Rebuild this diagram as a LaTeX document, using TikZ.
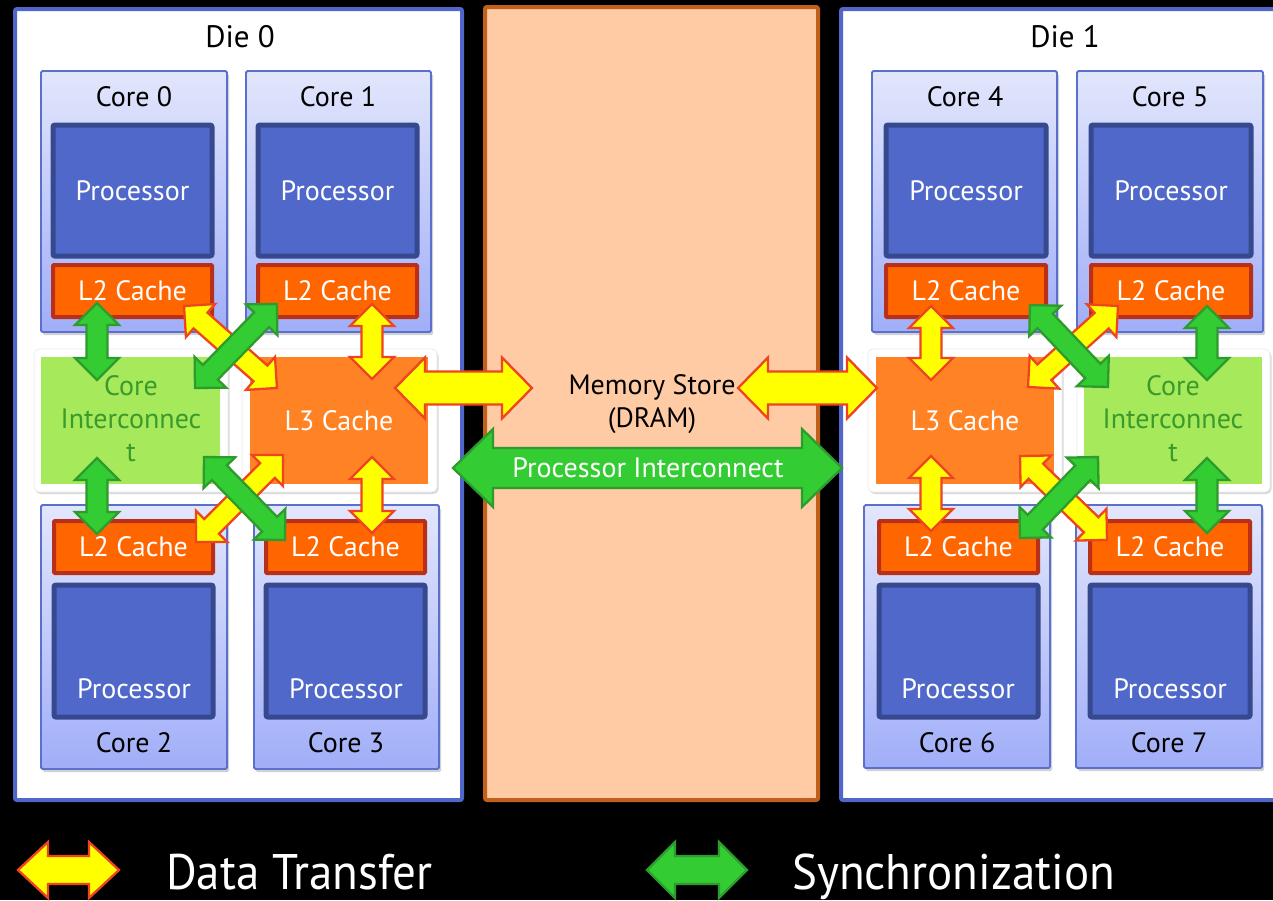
\documentclass[tikz,border=0pt]{standalone}
\usepackage{fontspec}
\setmainfont{PT Sans}
\usepackage{graphicx}
\usetikzlibrary{shadows,calc}
\definecolor{dieblue}{HTML}{5066C8}
\definecolor{corelight}{HTML}{E2E6FC}
\definecolor{coredark}{HTML}{A0AEF8}
\definecolor{coreborder}{HTML}{5A70CC}
\definecolor{procfill}{HTML}{4F68C9}
\definecolor{procborder}{HTML}{36498F}
\definecolor{ltwofill}{HTML}{FF6600}
\definecolor{ltwoborder}{HTML}{B8301A}
\definecolor{lthreefill}{HTML}{FF8224}
\definecolor{cifill}{HTML}{A6E95A}
\definecolor{citext}{HTML}{3A9B2C}
\definecolor{memfill}{HTML}{FFCBA4}
\definecolor{memborder}{HTML}{C0601C}
\definecolor{yelfill}{HTML}{FFFF00}
\definecolor{yelborder}{HTML}{EE4422}
\definecolor{grnfill}{HTML}{33CC33}
\definecolor{grnborder}{HTML}{2E9B2E}

\newcommand\boxat[7]{%
  \node[#2, minimum width={#5-#3}, minimum height={#6-#4}] (#1) at ({(#3+#5)/2},{(#4+#6)/2}) {#7};}

\newcommand\blockarrow[6]{%
  \path let \p1=(#2), \p2=(#3) in \pgfextra{%
    \pgfmathsetmacro\baAng{atan2(\y2-\y1,\x2-\x1)}%
    \pgfmathsetmacro\baLen{veclen(\x2-\x1,\y2-\y1)}%
    \xdef\baA{\baAng}\xdef\baL{\baLen}\xdef\baX{\x1}\xdef\baY{\y1}};
  \draw[#1, shift={(\baX,\baY)}, rotate=\baA]
    (0,0) -- (#6,#5) -- (#6,#4) -- ({\baL-#6},#4) -- ({\baL-#6},#5) -- (\baL,0)
    -- ({\baL-#6},-#5) -- ({\baL-#6},-#4) -- (#6,-#4) -- (#6,-#5) -- cycle;}

\tikzset{
  every node/.style={inner sep=0pt, font=\fontsize{28}{33}\selectfont},
  die/.style={draw=dieblue, line width=4pt, fill=white, rounded corners=2pt},
  mem/.style={draw=memborder, line width=4pt, fill=memfill, rounded corners=2pt},
  core/.style={draw=coreborder, line width=1.8pt, top color=corelight, bottom color=coredark,
    rounded corners=1.5pt, drop shadow={shadow xshift=2pt, shadow yshift=-3pt, opacity=0.18, fill=black}},
  proc/.style={draw=procborder, line width=5pt, fill=procfill, rounded corners=2pt, text=white},
  ltwo/.style={draw=ltwoborder, line width=4pt, fill=ltwofill, text=white, rounded corners=1pt},
  panel/.style={fill=white, draw=black!8, line width=0.8pt, rounded corners=5pt,
    drop shadow={shadow xshift=1.5pt, shadow yshift=-2pt, opacity=0.15, fill=black}},
  lthree/.style={fill=lthreefill, text=white},
  cinter/.style={fill=cifill, text=citext, align=center},
  lbl/.style={text=black},
  yel/.style={fill=yelfill, draw=yelborder, line width=2.3pt, line join=miter},
  grn/.style={fill=grnfill, draw=grnborder, line width=2.3pt, line join=miter},
  legendtext/.style={text=white, font=\fontsize{50}{60}\selectfont, anchor=base west}
}

\begin{document}
\begin{tikzpicture}[x=1pt, y=-1pt]
\useasboundingbox (0,0) rectangle (1273,900);
\clip (0,0) rectangle (1273,900);
\fill[black] (0,0) rectangle (1273,900);

% dies and memory
\boxat{die0}{die}{15}{9}{462}{800}{}
\boxat{die1}{die}{841}{9}{1292}{800}{}
\boxat{mem}{mem}{485}{7}{818}{800}{}
\node[lbl, font=\fontsize{31}{36}\selectfont] (die0lbl) at (240,37) {Die 0};
\node[lbl, font=\fontsize{31}{36}\selectfont] (die1lbl) at (1065,37) {Die 1};

% cores
\boxat{core0}{core}{41}{71}{227}{332}{}
\boxat{core1}{core}{246}{71}{431}{332}{}
\boxat{core2}{core}{41}{505}{227}{769}{}
\boxat{core3}{core}{254}{505}{439}{769}{}
\boxat{core4}{core}{872}{71}{1057}{332}{}
\boxat{core5}{core}{1077}{71}{1263}{332}{}
\boxat{core6}{core}{864}{505}{1050}{768}{}
\boxat{core7}{core}{1076}{505}{1262}{768}{}

\node[lbl] (c0lbl) at (134,97) {Core 0};
\node[lbl] (c1lbl) at (338,97) {Core 1};
\node[lbl] (c4lbl) at (965,97) {Core 4};
\node[lbl] (c5lbl) at (1170,97) {Core 5};
\node[lbl] (c2lbl) at (134,743) {Core 2};
\node[lbl] (c3lbl) at (346,743) {Core 3};
\node[lbl] (c6lbl) at (957,743) {Core 6};
\node[lbl] (c7lbl) at (1169,743) {Core 7};

% processors
\boxat{proc0}{proc}{53}{125}{212}{256}{Processor}
\boxat{proc1}{proc}{258}{125}{417}{256}{Processor}
\boxat{proc4}{proc}{886}{125}{1046}{256}{Processor}
\boxat{proc5}{proc}{1091}{125}{1251}{256}{Processor}
\boxat{proc2}{proc}{54}{585}{213}{717}{}
\boxat{proc3}{proc}{266}{585}{425}{717}{}
\boxat{proc6}{proc}{879}{585}{1038}{717}{}
\boxat{proc7}{proc}{1090}{585}{1250}{717}{}
\node[text=white] (p2t) at (134,689) {Processor};
\node[text=white] (p3t) at (346,689) {Processor};
\node[text=white] (p6t) at (958,689) {Processor};
\node[text=white] (p7t) at (1170,689) {Processor};

% L2 caches
\boxat{ltwoa}{ltwo}{53}{265}{212}{317}{L2 Cache}
\boxat{ltwob}{ltwo}{258}{265}{417}{317}{L2 Cache}
\boxat{ltwoc}{ltwo}{54}{521}{213}{573}{L2 Cache}
\boxat{ltwod}{ltwo}{266}{521}{425}{573}{L2 Cache}
\boxat{ltwoe}{ltwo}{886}{265}{1046}{317}{L2 Cache}
\boxat{ltwof}{ltwo}{1091}{265}{1251}{317}{L2 Cache}
\boxat{ltwog}{ltwo}{879}{521}{1038}{573}{L2 Cache}
\boxat{ltwoh}{ltwo}{1090}{521}{1250}{573}{L2 Cache}

% panels, L3 and core interconnects
\boxat{pci0}{panel}{34}{349}{228}{492}{}
\boxat{pl30}{panel}{242}{349}{437}{492}{}
\boxat{pl31}{panel}{868}{349}{1062}{492}{}
\boxat{pci1}{panel}{1077}{349}{1270}{492}{}
\boxat{ci0}{cinter}{41}{357}{220}{484}{}
\boxat{lthreea}{lthree}{250}{357}{428}{484}{L3 Cache}
\boxat{lthreeb}{lthree}{876}{357}{1054}{484}{L3 Cache}
\boxat{ci1}{cinter}{1084}{357}{1262}{484}{}
\node[text=citext, align=center] (ci0t) at (131,419) {Core\\Interconnec\\t};
\node[text=citext, align=center] (ci1t) at (1173,419) {Core\\Interconnec\\t};

% memory text
\node[lbl, align=center] (memt) at (652,404) {Memory Store\\(DRAM)};

% arrow end points
\coordinate (a1s) at (97,303);  \coordinate (a1e) at (97,380);
\coordinate (a2s) at (97,458);  \coordinate (a2e) at (97,534);
\coordinate (a3s) at (372,304); \coordinate (a3e) at (372,379);
\coordinate (a4s) at (372,457); \coordinate (a4e) at (372,533);
\coordinate (a5s) at (184,306); \coordinate (a5e) at (277,388);
\coordinate (a6s) at (195,388); \coordinate (a6e) at (277,304);
\coordinate (a7s) at (204,457); \coordinate (a7e) at (285,540);
\coordinate (a8s) at (283,455); \coordinate (a8e) at (196,542);

\coordinate (b1s) at (931,306); \coordinate (b1e) at (931,380);
\coordinate (b2s) at (931,456); \coordinate (b2e) at (931,531);
\coordinate (b3s) at (1207,306); \coordinate (b3e) at (1207,380);
\coordinate (b4s) at (1207,458); \coordinate (b4e) at (1207,533);
\coordinate (b5s) at (1030,305); \coordinate (b5e) at (1108,387);
\coordinate (b6s) at (1118,306); \coordinate (b6e) at (1028,387);
\coordinate (b7s) at (1020,456); \coordinate (b7e) at (1107,540);
\coordinate (b8s) at (1098,457); \coordinate (b8e) at (1020,538);

\coordinate (m1s) at (395,388); \coordinate (m1e) at (532,388);
\coordinate (m2s) at (738,388); \coordinate (m2e) at (877,388);
\coordinate (m3s) at (453,468); \coordinate (m3e) at (842,468);

% yellow (data transfer) arrows
\blockarrow{yel}{a3s}{a3e}{10.5}{22}{22}
\blockarrow{yel}{a4s}{a4e}{10.5}{22}{22}
\blockarrow{yel}{a5s}{a5e}{10.5}{22}{22}
\blockarrow{yel}{a8s}{a8e}{10.5}{22}{22}
\blockarrow{yel}{b1s}{b1e}{10.5}{22}{22}
\blockarrow{yel}{b2s}{b2e}{10.5}{22}{22}
\blockarrow{yel}{b6s}{b6e}{10.5}{22}{22}
\blockarrow{yel}{b7s}{b7e}{10.5}{22}{22}
\blockarrow{yel}{m1s}{m1e}{16.5}{30.5}{30}
\blockarrow{yel}{m2s}{m2e}{16.5}{30.5}{30}

% green (synchronization) arrows
\blockarrow{grn}{a1s}{a1e}{10.5}{22}{22}
\blockarrow{grn}{a2s}{a2e}{10.5}{22}{22}
\blockarrow{grn}{a6s}{a6e}{10.5}{22}{22}
\blockarrow{grn}{a7s}{a7e}{10.5}{22}{22}
\blockarrow{grn}{b3s}{b3e}{10.5}{22}{22}
\blockarrow{grn}{b4s}{b4e}{10.5}{22}{22}
\blockarrow{grn}{b5s}{b5e}{10.5}{22}{22}
\blockarrow{grn}{b8s}{b8e}{10.5}{22}{22}
\blockarrow{grn}{m3s}{m3e}{20}{39}{40}
\node[text=white] (pit) at (648,468) {Processor Interconnect};

% legend
\coordinate (l1s) at (18,870);  \coordinate (l1e) at (119,870);
\coordinate (l2s) at (647,870); \coordinate (l2e) at (747,870);
\blockarrow{yel}{l1s}{l1e}{14}{28}{30}
\blockarrow{grn}{l2s}{l2e}{14}{28}{28}
\node[legendtext] (leg1) at (166,889) {\scalebox{0.94}[1]{Data Transfer}};
\node[legendtext] (leg2) at (792,889) {\scalebox{0.94}[1]{Synchronization}};
\end{tikzpicture}
\end{document}
